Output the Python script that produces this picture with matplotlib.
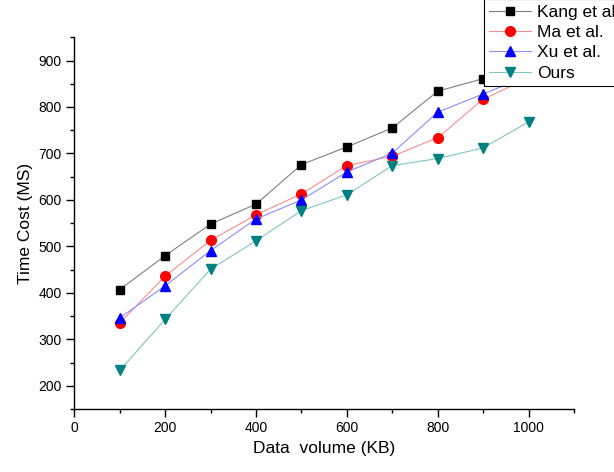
import numpy as np
import matplotlib.pyplot as plt
from matplotlib.ticker import MultipleLocator

plt.rcParams['font.family'] = ['Liberation Sans', 'DejaVu Sans']

volume = np.array([100, 200, 300, 400, 500, 600, 700, 800, 900, 1000])
kang = np.array([407, 480, 548, 591, 676, 714, 755, 834, 861, 905])
ma = np.array([335, 436, 513, 568, 613, 674, 694, 734, 817, 862])
xu = np.array([346, 415, 491, 559, 600, 660, 701, 789, 828, 868])
ours = np.array([233, 343, 451, 512, 577, 611, 674, 689, 712, 768])

labels = ['Kang et al', 'Ma et al.', 'Xu et al.', 'Ours']

fig = plt.figure(figsize=(6.14, 4.72), dpi=100)
ax = fig.add_axes([0.121, 0.1335, 0.814, 0.7875])

ax.plot(volume, kang, color='#808080', lw=0.8, marker='s', ms=6,
        mfc='black', mec='black', label=labels[0])
ax.plot(volume, ma, color='#ff8c8c', lw=0.8, marker='o', ms=7,
        mfc='red', mec='red', label=labels[1])
ax.plot(volume, xu, color='#8c8cff', lw=0.8, marker='^', ms=7.5,
        mfc='blue', mec='blue', label=labels[2])
ax.plot(volume, ours, color='#80c4c4', lw=0.8, marker='v', ms=7.5,
        mfc='#008080', mec='#008080', label=labels[3])

ax.set_xlim(0, 1100)
ax.set_ylim(150, 950)
ax.xaxis.set_major_locator(MultipleLocator(200))
ax.xaxis.set_minor_locator(MultipleLocator(100))
ax.yaxis.set_major_locator(MultipleLocator(100))
ax.yaxis.set_minor_locator(MultipleLocator(50))
ax.set_yticks(np.arange(200, 901, 100))

ax.spines['top'].set_visible(False)
ax.spines['right'].set_visible(False)
for s in ['left', 'bottom']:
    ax.spines[s].set_linewidth(1.0)
ax.tick_params(which='major', direction='out', length=5.5, width=1.0, labelsize=10)
ax.tick_params(which='minor', direction='out', length=3, width=1.0)

ax.set_xlabel('Data  volume (KB)', fontsize=12.5)
ax.set_ylabel('Time Cost (MS)', fontsize=12.5)

leg = fig.legend(loc='lower left', bbox_to_anchor=(0.788, 0.818),
                 fontsize=12.5, frameon=True, fancybox=False, edgecolor='black',
                 framealpha=1, labelspacing=0.3, handlelength=2.4,
                 handletextpad=0.35, borderpad=0.3, borderaxespad=0)
leg.get_frame().set_linewidth(0.8)

fig.savefig('out.png', dpi=100)
